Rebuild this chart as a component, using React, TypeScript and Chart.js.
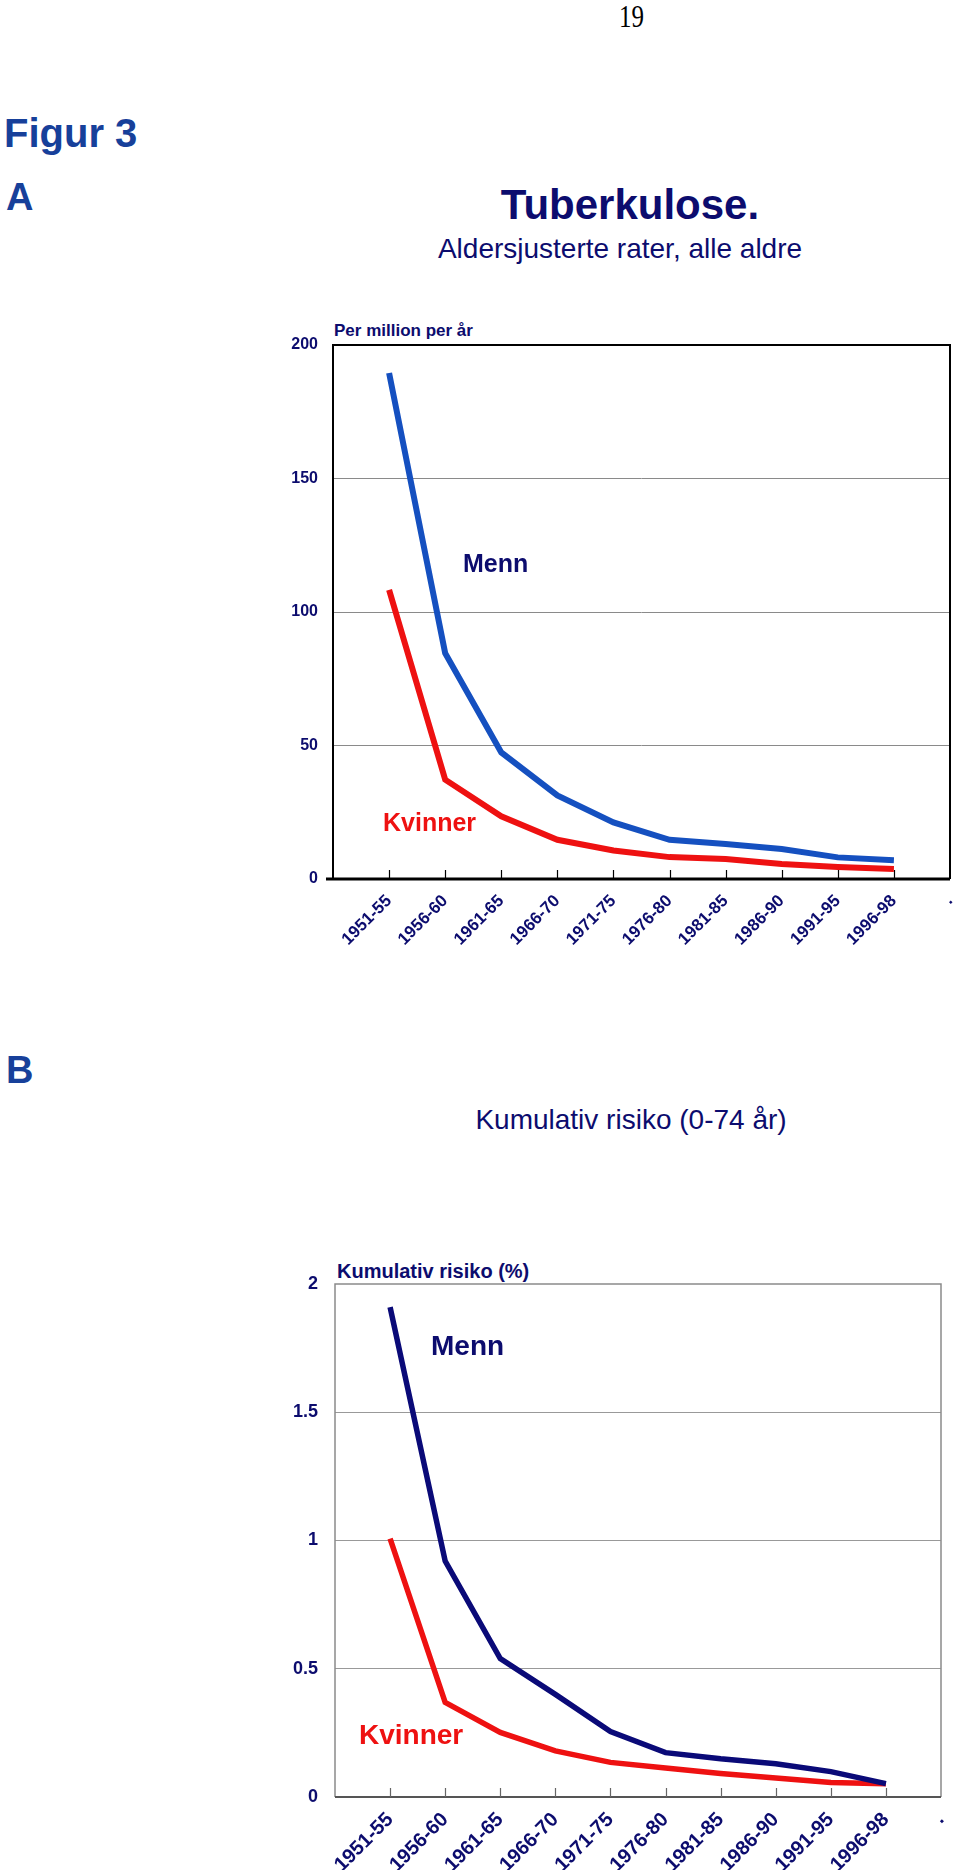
import React, { useEffect, useRef } from 'react';
import { Chart, registerables } from 'chart.js';

Chart.register(...registerables);

// ---- data ----
const periods = ['1951-55', '1956-60', '1961-65', '1966-70', '1971-75', '1976-80', '1981-85', '1986-90', '1991-95', '1996-98'];
const axisLabels = ['', ...periods, '.'];

const menRate = [189.5, 84.6, 47.4, 31.3, 21.2, 14.7, 13.1, 11.2, 8.1, 7.0];
const womenRate = [108.3, 37.2, 23.5, 14.7, 10.7, 8.2, 7.5, 5.6, 4.5, 3.7];

const menRisk = [1.91, 0.92, 0.54, 0.4, 0.255, 0.173, 0.149, 0.13, 0.099, 0.052];
const womenRisk = [1.007, 0.369, 0.252, 0.18, 0.135, 0.113, 0.092, 0.074, 0.057, 0.052];

const rateTicks = [0, 50, 100, 150, 200];
const riskTicks = [0, 0.5, 1, 1.5, 2];

// ---- style ----
const FONT = '"Liberation Sans", Arial, Helvetica, sans-serif';
const NAVY = '#0c0c6e';
const RED = '#ee1111';
const BLUE = '#1550c0';
const DARKNAVY = '#0a0a78';
const FIGBLUE = '#17409a';

const pad = (arr: number[]) => [null, ...arr, null];

const framePlugin = {
  id: 'frame',
  beforeDatasetsDraw(chart: any, _args: any, o: any) {
    const { ctx, chartArea } = chart;
    const { left, right, top, bottom } = chartArea;
    const xs = chart.scales.x;
    ctx.save();
    ctx.strokeStyle = o.color;
    ctx.lineWidth = o.width;
    ctx.beginPath();
    ctx.moveTo(left, bottom);
    ctx.lineTo(left, top);
    ctx.lineTo(right, top);
    ctx.lineTo(right, bottom);
    ctx.stroke();
    ctx.strokeStyle = o.axisColor;
    ctx.lineWidth = o.axisWidth;
    ctx.beginPath();
    ctx.moveTo(left - o.ext, bottom);
    ctx.lineTo(right, bottom);
    ctx.stroke();
    ctx.lineWidth = 1.2;
    ctx.strokeStyle = o.tickColor;
    ctx.beginPath();
    for (let i = 1; i < xs.ticks.length - 1; i++) {
      const px = Math.round(xs.getPixelForTick(i)) + 0.5;
      ctx.moveTo(px, bottom);
      ctx.lineTo(px, bottom - o.tick);
    }
    ctx.stroke();
    ctx.restore();
  },
};

function makeConfig(p: any) {
  return {
    type: 'line',
    data: {
      labels: axisLabels,
      datasets: [
        { label: 'Menn', data: pad(p.men), borderColor: p.menColor, borderWidth: p.lw, pointRadius: 0, tension: 0, fill: false },
        { label: 'Kvinner', data: pad(p.women), borderColor: RED, borderWidth: p.lw, pointRadius: 0, tension: 0, fill: false },
      ],
    },
    options: {
      responsive: false,
      animation: false,
      devicePixelRatio: 1,
      layout: { padding: { left: 0, right: p.padRight, top: p.padTop, bottom: 0 } },
      plugins: {
        legend: { display: false },
        tooltip: { enabled: false },
        frame: p.frame,
      },
      scales: {
        x: {
          type: 'category',
          offset: false,
          grid: { display: false },
          border: { display: false },
          ticks: {
            autoSkip: false,
            minRotation: 45,
            maxRotation: 45,
            padding: p.xPad,
            color: NAVY,
            font: { family: FONT, size: p.xFont, weight: 'bold' },
          },
          afterFit: (s: any) => {
            s.height = p.xHeight;
            s.paddingLeft = 0;
            s.paddingRight = 0;
          },
        },
        y: {
          min: 0,
          max: p.yTicks[p.yTicks.length - 1],
          afterBuildTicks: (s: any) => { s.ticks = p.yTicks.map((v: number) => ({ value: v })); },
          grid: {
            drawTicks: false,
            color: (c: any) => (c.tick && (c.tick.value === 0 || c.tick.value === p.yTicks[p.yTicks.length - 1]) ? 'rgba(0,0,0,0)' : p.gridColor),
            lineWidth: 1,
          },
          border: { display: false },
          ticks: {
            padding: p.yPad,
            color: NAVY,
            font: { family: FONT, size: p.yFont, weight: 'bold' },
            callback: (v: any) => String(v),
          },
          afterFit: (s: any) => {
            s.width = p.yWidth;
            s.paddingTop = 0;
            s.paddingBottom = 0;
          },
        },
      },
    },
    plugins: [framePlugin],
  };
}

function LineChart({ cfg, left, top, width, height }: any) {
  const ref = useRef<HTMLCanvasElement>(null);
  useEffect(() => {
    const chart = new Chart(ref.current as HTMLCanvasElement, makeConfig(cfg) as any);
    return () => chart.destroy();
  }, []);
  return <canvas ref={ref} width={width} height={height} style={{ position: 'absolute', left, top, width, height }} />;
}

function Txt({ children, left, top, size, bold, color, center, serif, sx }: any) {
  const style: any = {
    position: 'absolute',
    top,
    left,
    fontFamily: serif ? '"Liberation Serif", "Times New Roman", serif' : FONT,
    fontSize: size,
    fontWeight: bold ? 'bold' : 'normal',
    lineHeight: `${size}px`,
    color,
    whiteSpace: 'nowrap',
  };
  const tr: string[] = [];
  if (center) tr.push('translateX(-50%)');
  if (sx) tr.push(`scaleX(${sx})`);
  if (tr.length) {
    style.transform = tr.join(' ');
    style.transformOrigin = 'left top';
  }
  return <div style={style}>{children}</div>;
}

const cfgA = {
  men: menRate, women: womenRate, menColor: BLUE, lw: 6,
  yTicks: rateTicks, yFont: 16, yPad: 15, yWidth: 83,
  xFont: 17, xPad: 4, xHeight: 101,
  padRight: 10, padTop: 45,
  gridColor: '#8a8a8a',
  frame: { color: '#000', width: 2, axisColor: '#000', axisWidth: 3, ext: 7, tick: 9, tickColor: '#000' },
};

const cfgB = {
  men: menRisk, women: womenRisk, menColor: DARKNAVY, lw: 5.5,
  yTicks: riskTicks, yFont: 18, yPad: 17, yWidth: 85,
  xFont: 20, xPad: 3, xHeight: 73,
  padRight: 19, padTop: 34,
  gridColor: '#999999',
  frame: { color: '#8a8a8a', width: 1.5, axisColor: '#555', axisWidth: 2, ext: 0, tick: 9, tickColor: '#666' },
};

export default function App() {
  return (
    <div style={{ position: 'absolute', left: 0, top: 0, width: 960, height: 1870, background: '#fff', overflow: 'hidden' }}>
      <Txt left={619} top={0} size={32} color="#000" serif sx={0.78}>19</Txt>
      <Txt left={4} top={113} size={40} bold color={FIGBLUE}>Figur 3</Txt>
      <Txt left={6} top={178} size={38} bold color={FIGBLUE}>A</Txt>
      <Txt left={630} top={184} size={42} bold color={NAVY} center>Tuberkulose.</Txt>
      <Txt left={620} top={235} size={28} color={NAVY} center>Aldersjusterte rater, alle aldre</Txt>
      <Txt left={334} top={322} size={17} bold color={NAVY}>Per million per år</Txt>

      <LineChart cfg={cfgA} left={250} top={300} width={710} height={680} />
      <Txt left={463} top={551} size={25} bold color={NAVY}>Menn</Txt>
      <Txt left={383} top={810} size={25} bold color={RED}>Kvinner</Txt>

      <Txt left={6} top={1051} size={38} bold color={FIGBLUE}>B</Txt>
      <Txt left={631} top={1106} size={28} color={NAVY} center>Kumulativ risiko (0-74 år)</Txt>
      <Txt left={337} top={1261} size={20} bold color={NAVY}>Kumulativ risiko (%)</Txt>

      <LineChart cfg={cfgB} left={250} top={1250} width={710} height={620} />
      <Txt left={431} top={1332} size={28} bold color={NAVY}>Menn</Txt>
      <Txt left={359} top={1721} size={28} bold color={RED}>Kvinner</Txt>
    </div>
  );
}
